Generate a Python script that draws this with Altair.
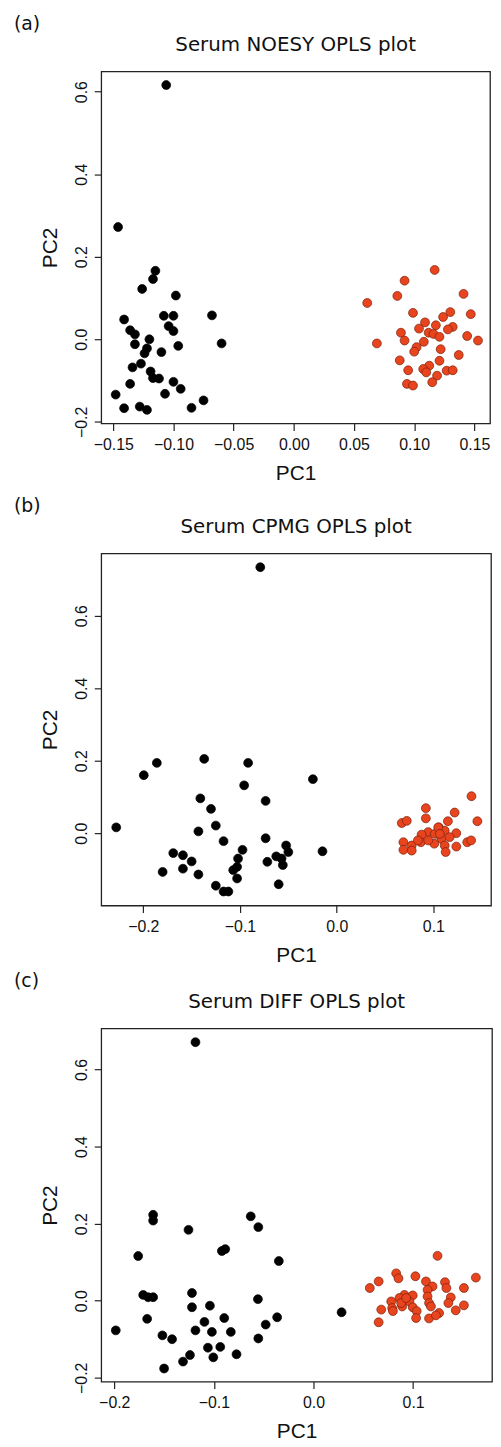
import altair as alt
import pandas as pd

# ---------------- data ----------------
a_ctrl_x = [-0.106, -0.146, -0.115, -0.117, -0.126, -0.098, -0.141, -0.108, -0.100, -0.068,
            -0.136, -0.132, -0.104, -0.100, -0.120, -0.132, -0.096, -0.060, -0.122, -0.124,
            -0.110, -0.127, -0.134, -0.119, -0.117, -0.112, -0.100, -0.136, -0.094, -0.107,
            -0.148, -0.075, -0.085, -0.141, -0.128, -0.122]
a_ctrl_y = [0.616, 0.272, 0.166, 0.146, 0.122, 0.106, 0.048, 0.057, 0.057, 0.058,
            0.022, 0.012, 0.032, 0.020, 0.000, -0.012, -0.016, -0.010, -0.022, -0.034,
            -0.031, -0.059, -0.068, -0.078, -0.094, -0.095, -0.103, -0.108, -0.120, -0.132,
            -0.134, -0.148, -0.166, -0.167, -0.163, -0.171]
a_case_x = [0.117, 0.092, 0.086, 0.061, 0.141, 0.099, 0.130, 0.124, 0.147, 0.109,
            0.104, 0.118, 0.132, 0.128, 0.089, 0.112, 0.116, 0.121, 0.144, 0.153,
            0.092, 0.069, 0.108, 0.102, 0.100, 0.122, 0.137, 0.088, 0.121, 0.095,
            0.1125, 0.1075, 0.110, 0.119, 0.127, 0.132, 0.094, 0.099, 0.115]
a_case_y = [0.168, 0.142, 0.105, 0.088, 0.110, 0.064, 0.066, 0.054, 0.061, 0.041,
            0.026, 0.034, 0.030, 0.024, 0.016, 0.016, 0.013, 0.006, 0.008, -0.003,
            -0.003, -0.010, -0.006, -0.019, -0.030, -0.024, -0.038, -0.051, -0.052, -0.075,
            -0.064, -0.072, -0.080, -0.088, -0.076, -0.075, -0.108, -0.112, -0.104]

b_ctrl_x = [-0.079, -0.1995, -0.186, -0.137, -0.0916, -0.0957, -0.0246, -0.141, -0.130, -0.0735,
            -0.228, -0.125, -0.143, -0.117, -0.0735, -0.169, -0.159, -0.150, -0.159, -0.180,
            -0.143, -0.0974, -0.102, -0.103, -0.107, -0.103, -0.125, -0.117, -0.112, -0.0523,
            -0.050, -0.0625, -0.057, -0.0557, -0.0717, -0.060, -0.0147]
b_ctrl_y = [0.734, 0.160, 0.194, 0.205, 0.194, 0.132, 0.149, 0.096, 0.067, 0.089,
            0.016, 0.021, 0.005, -0.022, -0.014, -0.055, -0.061, -0.078, -0.098, -0.107,
            -0.114, -0.046, -0.070, -0.093, -0.102, -0.125, -0.145, -0.161, -0.161, -0.034,
            -0.052, -0.064, -0.070, -0.088, -0.079, -0.141, -0.050]
b_case_x = [0.1394, 0.0922, 0.122, 0.0922, 0.0673, 0.0725, 0.1455, 0.115, 0.1056, 0.0947,
            0.0878, 0.1015, 0.1117, 0.1237, 0.1083, 0.1168, 0.069, 0.0776, 0.069, 0.0871,
            0.1009, 0.1117, 0.1237, 0.135, 0.139, 0.1127, 0.0947, 0.0776, 0.105, 0.1066, 0.084]
b_case_y = [0.102, 0.069, 0.057, 0.041, 0.028, 0.034, 0.033, 0.033, 0.016, 0.003,
            -0.004, -0.002, 0.007, 0.000, -0.016, -0.011, -0.025, -0.034, -0.046, -0.025,
            -0.029, -0.034, -0.037, -0.025, -0.020, -0.052, -0.020, -0.048, 0.016, -0.002, -0.020]

c_ctrl_x = [-0.1185, -0.161, -0.161, -0.1255, -0.063, -0.0554, -0.176, -0.092, -0.0886, -0.0348,
            -0.171, -0.166, -0.161, -0.122, -0.0558, -0.122, -0.104, -0.167, -0.0896, -0.0365,
            0.0282, -0.1985, -0.1095, -0.048, -0.1517, -0.142, -0.1185, -0.102, -0.083, -0.0554,
            -0.106, -0.0936, -0.124, -0.131, -0.1006, -0.0773, -0.150]
c_ctrl_y = [0.671, 0.223, 0.208, 0.184, 0.219, 0.191, 0.116, 0.129, 0.134, 0.103,
            0.015, 0.009, 0.009, 0.020, 0.004, -0.017, -0.013, -0.047, -0.045, -0.043,
            -0.030, -0.077, -0.055, -0.062, -0.090, -0.100, -0.077, -0.081, -0.081, -0.098,
            -0.122, -0.120, -0.141, -0.158, -0.147, -0.139, -0.176]
c_case_x = [0.1245, 0.163, 0.083, 0.0853, 0.1023, 0.0654, 0.0565, 0.1129, 0.1195, 0.132,
            0.1334, 0.151, 0.1145, 0.1145, 0.0913, 0.0996, 0.0863, 0.0963, 0.1378, 0.1354,
            0.078, 0.116, 0.089, 0.079, 0.0996, 0.1179, 0.1261, 0.1428, 0.151, 0.068,
            0.0797, 0.1036, 0.103, 0.116, 0.0654, 0.088, 0.093, 0.1229]
c_case_y = [0.1165, 0.060, 0.071, 0.058, 0.0635, 0.050, 0.033, 0.050, 0.037, 0.048,
            0.033, 0.033, 0.028, 0.011, 0.015, 0.0137, 0.007, -0.002, 0.0085, -0.006,
            -0.002, -0.006, -0.015, -0.019, -0.017, -0.015, -0.032, -0.025, -0.012, -0.023,
            -0.027, -0.027, -0.045, -0.046, -0.056, -0.006, 0.007, -0.038]

panel_labels = ["(a)", "(b)", "(c)"]
panel_titles = ["Serum NOESY OPLS plot", "Serum CPMG OPLS plot", "Serum DIFF OPLS plot"]
groups = ["control", "case"]
group_fill = ["#000000", "#E8441E"]
group_stroke = ["#000000", "#7A1E0A"]

AXIS_FONT = "Liberation Sans"
TEXT_FONT = "DejaVu Sans"


def make_df(cx, cy, px, py):
    return pd.DataFrame({
        "PC1": cx + px,
        "PC2": cy + py,
        "group": [groups[0]] * len(cx) + [groups[1]] * len(px),
    })


def minus_expr(fmt):
    return "replace(format(datum.value, '%s'), '-', '\u2212')" % fmt


def panel(df, label, title, w, h, xdom, ydom, xvals, yvals, xfmt, yfmt):
    pts = alt.Chart(df).mark_circle(size=80, opacity=1, strokeWidth=0.7).encode(
        x=alt.X("PC1:Q",
                scale=alt.Scale(domain=xdom, nice=False, zero=False),
                axis=alt.Axis(values=xvals, labelExpr=minus_expr(xfmt), title="PC1",
                              labelBaseline="alphabetic", labelPadding=19.5,
                              titleBaseline="alphabetic", titleY=56)),
        y=alt.Y("PC2:Q",
                scale=alt.Scale(domain=ydom, nice=False, zero=False),
                axis=alt.Axis(values=yvals, labelExpr=minus_expr(yfmt), title="PC2",
                              labelAngle=-90, labelAlign="center",
                              labelBaseline="alphabetic", labelPadding=8,
                              titleAngle=-90, titleAlign="center",
                              titleBaseline="alphabetic", titleX=-45, titleY=h / 2)),
        fill=alt.Fill("group:N", scale=alt.Scale(domain=groups, range=group_fill), legend=None),
        stroke=alt.Stroke("group:N", scale=alt.Scale(domain=groups, range=group_stroke), legend=None),
        order=alt.Order("grp_order:Q"),
    ).transform_calculate(grp_order="datum.group == 'control' ? 0 : 1")

    lab = alt.Chart(pd.DataFrame({"t": [label]})).mark_text(
        align="left", baseline="middle", fontSize=19, font=TEXT_FONT, color="#111"
    ).encode(x=alt.value(-88), y=alt.value(-48), text="t:N")

    ttl = alt.Chart(pd.DataFrame({"t": [title]})).mark_text(
        align="center", baseline="alphabetic", fontSize=20, font=TEXT_FONT, color="#111"
    ).encode(x=alt.value(w / 2), y=alt.value(-21), text="t:N")

    return alt.layer(pts, lab, ttl).properties(width=w, height=h)


pa = panel(make_df(a_ctrl_x, a_ctrl_y, a_case_x, a_case_y), panel_labels[0], panel_titles[0],
           392, 355, [-0.160, 0.163], [-0.204, 0.649],
           [-0.15, -0.10, -0.05, 0.0, 0.05, 0.10, 0.15], [-0.2, 0.0, 0.2, 0.4, 0.6], ".2f", ".1f")
pb = panel(make_df(b_ctrl_x, b_ctrl_y, b_case_x, b_case_y), panel_labels[1], panel_titles[1],
           393, 355, [-0.2435, 0.1596], [-0.1997, 0.772],
           [-0.2, -0.1, 0.0, 0.1], [0.0, 0.2, 0.4, 0.6], ".1f", ".1f")
pc = panel(make_df(c_ctrl_x, c_ctrl_y, c_case_x, c_case_y), panel_labels[2], panel_titles[2],
           394, 356, [-0.2131, 0.1792], [-0.210, 0.7065],
           [-0.2, -0.1, 0.0, 0.1], [-0.2, 0.0, 0.2, 0.4, 0.6], ".1f", ".1f")

inner = alt.vconcat(pb, pc, spacing=124, bounds="flush")
chart = alt.vconcat(pa, inner, spacing=131, bounds="flush").properties(
    padding={"left": 5, "top": 0, "right": 0, "bottom": 0}
).configure_view(
    stroke="#222", strokeWidth=1.3
).configure_axis(
    domain=False, grid=False,
    tickColor="#222", tickSize=7, tickWidth=1.2,
    labelColor="#111", labelFont=AXIS_FONT, labelFontSize=16,
    titleColor="#111", titleFont=AXIS_FONT, titleFontSize=21, titleFontWeight="normal",
)

chart.save("out.html", embed_options={"renderer": "svg", "actions": False})
